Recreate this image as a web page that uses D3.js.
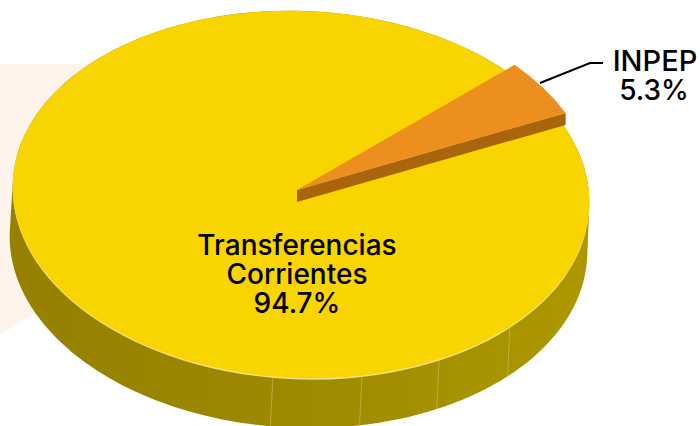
<!DOCTYPE html>
<html>
<head>
<meta charset="utf-8">
<script src="https://cdn.jsdelivr.net/npm/d3@7"></script>
<style>
  html, body { margin: 0; padding: 0; background: #fff; }
  svg { display: block; }
  text { font-family: Inter, "Liberation Sans", Arial, sans-serif; font-weight: 500; fill: #000; text-anchor: middle; }
</style>
</head>
<body>
<script>
const categories = ["INPEP", "Transferencias Corrientes"];
const values = [5.3, 94.7];
const sliceColors = ["#ec8f1e", "#f8d500"];
const valueLabels = ["5.3%", "94.7%"];
const seamAngles = [132, 149.8, 166.2, 184]; // joints painted on the wall, degrees from top

let width = 700;
let height = 426;
let radius = 288.5;
let flat = 0.636;
let tilt = 2.5;
let center = { x: 301, y: 194.5 };
let base = { x: 298.5, y: 244, r: 289 };
let rad = Math.PI / 180;

// point on a tilted ellipse, angle clockwise from top
function rim(c, r, a) {
  let px = r * Math.sin(a);
  let py = -r * Math.cos(a) * flat;
  let t = tilt * rad;
  return [
    c.x + px * Math.cos(t) - py * Math.sin(t),
    c.y + px * Math.sin(t) + py * Math.cos(t),
  ];
}

let svg = d3.select("body").append("svg").attr("width", width).attr("height", height);

let defs = svg.append("defs");
let wallGrad = defs
  .append("linearGradient")
  .attr("id", "wall")
  .attr("gradientUnits", "userSpaceOnUse")
  .attr("x1", 10)
  .attr("x2", 590)
  .attr("y1", 0)
  .attr("y2", 0);
wallGrad.append("stop").attr("offset", 0).attr("stop-color", "#958000");
wallGrad.append("stop").attr("offset", 0.45).attr("stop-color", "#9d8800");
wallGrad.append("stop").attr("offset", 1).attr("stop-color", "#ad9800");

// pale backdrop
svg
  .append("path")
  .attr("d", "M0,64L300,64L300,150L0,335Z")
  .attr("fill", "#fef4ec");

// wall: hull of the top and bottom ellipses
let sweep = d3.range(0, 360, 2).map((d) => d * rad);
let hull = d3.polygonHull(
  sweep.map((a) => rim(center, radius, a)).concat(sweep.map((a) => rim(base, base.r, a)))
);
svg
  .append("path")
  .attr("d", d3.line()(hull) + "Z")
  .attr("fill", "url(#wall)");

svg
  .append("g")
  .selectAll("path")
  .data(seamAngles)
  .join("path")
  .attr("d", (d) => d3.line()([rim(center, radius, d * rad), rim(base, base.r, d * rad)]))
  .attr("stroke", "#c9b75a")
  .attr("stroke-opacity", 0.7)
  .attr("stroke-width", 1)
  .attr("fill", "none");

// pie layout, first slice starts at the upper right
let pie = d3
  .pie()
  .sort(null)
  .value((d) => d)
  .startAngle(44.1 * rad)
  .endAngle(404.1 * rad);
let slices = pie(values);

let faceTransform = (x, y) => `translate(${x},${y}) rotate(${tilt}) scale(1,${flat})`;

// light edge under the face
let arc = d3.arc().innerRadius(0).outerRadius(radius);
svg
  .append("ellipse")
  .attr("rx", radius)
  .attr("ry", radius)
  .attr("transform", faceTransform(center.x, center.y + 1.4))
  .attr("fill", "#f4e190");

svg
  .append("path")
  .attr("d", arc(slices[1]))
  .attr("transform", faceTransform(center.x, center.y))
  .attr("fill", sliceColors[1]);

// pulled out slice, its side first
let pulled = { x: 297, y: 190 };
let trim = 0.95 * rad;
let depth = 12;
let a0 = slices[0].startAngle + trim;
let a1 = slices[0].endAngle - trim;
let apex = [pulled.x, pulled.y];
let corner = rim(pulled, 299.5, a1);
svg
  .append("path")
  .attr("d", d3.line()([apex, corner, [corner[0], corner[1] + depth], [apex[0], apex[1] + depth]]) + "Z")
  .attr("fill", "#a9640c");

svg
  .append("path")
  .attr("d", d3.arc().innerRadius(0).outerRadius(299.5)({ startAngle: a0, endAngle: a1 }))
  .attr("transform", faceTransform(pulled.x, pulled.y))
  .attr("fill", sliceColors[0]);

// leader
svg
  .append("path")
  .attr("d", d3.line()([[540, 83], [590, 63], [603, 63]]))
  .attr("fill", "none")
  .attr("stroke", "#000")
  .attr("stroke-width", 2);

// labels
svg.append("text").attr("x", 655).attr("y", 71).attr("font-size", 29).text(categories[0]);
svg.append("text").attr("x", 654).attr("y", 100).attr("font-size", 28).text(valueLabels[0]);

let mainLines = categories[1].split(" ").concat(valueLabels[1]);
svg
  .append("g")
  .selectAll("text")
  .data(mainLines)
  .join("text")
  .attr("x", 297)
  .attr("y", (d, i) => 254.5 + i * 29)
  .attr("font-size", 28)
  .text((d) => d);
</script>
</body>
</html>
